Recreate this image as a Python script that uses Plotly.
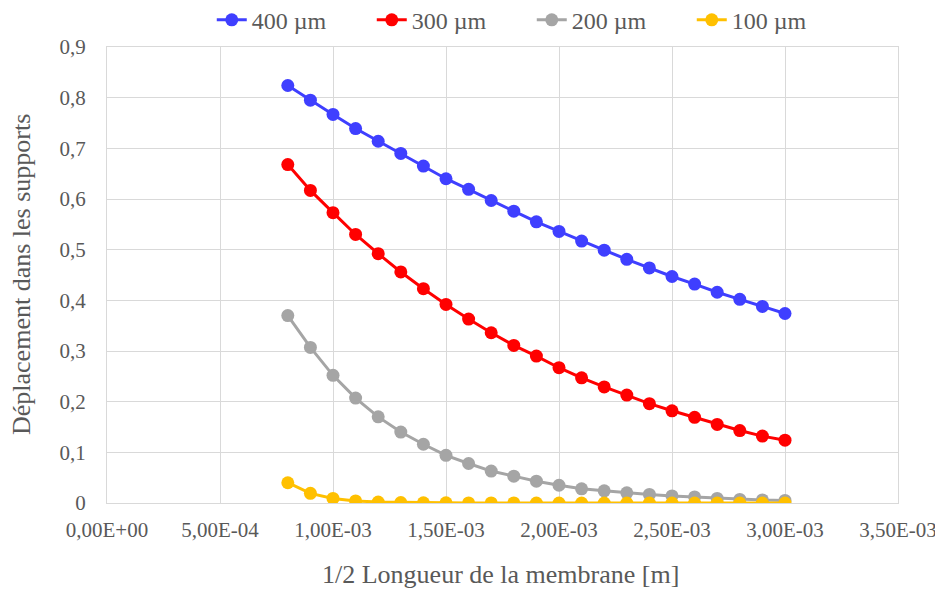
import plotly.graph_objects as go

x_m = [0.0008, 0.0009, 0.0010, 0.0011, 0.0012, 0.0013, 0.0014, 0.0015, 0.0016, 0.0017,
       0.0018, 0.0019, 0.0020, 0.0021, 0.0022, 0.0023, 0.0024, 0.0025, 0.0026, 0.0027,
       0.0028, 0.0029, 0.0030]

y_400 = [0.824, 0.795, 0.767, 0.739, 0.714, 0.690, 0.665, 0.640, 0.619, 0.597, 0.576, 0.555,
         0.536, 0.517, 0.499, 0.481, 0.464, 0.447, 0.432, 0.416, 0.402, 0.388, 0.374]
y_300 = [0.668, 0.617, 0.573, 0.530, 0.492, 0.456, 0.423, 0.392, 0.363, 0.336, 0.311, 0.290,
         0.267, 0.247, 0.229, 0.213, 0.196, 0.182, 0.169, 0.155, 0.143, 0.132, 0.124]
y_200 = [0.370, 0.307, 0.252, 0.207, 0.170, 0.140, 0.116, 0.094, 0.078, 0.063, 0.053, 0.043,
         0.035, 0.028, 0.024, 0.020, 0.017, 0.014, 0.012, 0.009, 0.007, 0.006, 0.005]
y_100 = [0.040, 0.019, 0.009, 0.004, 0.002, 0.001, 0.0005, 0.0003, 0.0002, 0.0001, 0.0001, 0.0,
         0.0, 0.0, 0.0, 0.0, 0.0, 0.0, 0.0, 0.0, 0.0, 0.0, 0.0]

series_names = ["400 µm", "300 µm", "200 µm", "100 µm"]
series_colors = ["#3F3FFF", "#FF0000", "#A5A5A5", "#FFC000"]

x_tickvals = [0, 0.0005, 0.001, 0.0015, 0.002, 0.0025, 0.003, 0.0035]
x_ticktext = ["0,00E+00", "5,00E-04", "1,00E-03", "1,50E-03", "2,00E-03", "2,50E-03", "3,00E-03", "3,50E-03"]
y_tickvals = [0, 0.1, 0.2, 0.3, 0.4, 0.5, 0.6, 0.7, 0.8, 0.9]
y_ticktext = ["0", "0,1", "0,2", "0,3", "0,4", "0,5", "0,6", "0,7", "0,8", "0,9"]

x_title = "1/2 Longueur de la membrane [m]"
y_title = "Déplacement dans les supports"

font_family = "Liberation Serif"
text_color = "#595959"

fig = go.Figure()
for name, color, ys in zip(series_names, series_colors, [y_400, y_300, y_200, y_100]):
    fig.add_trace(go.Scatter(
        x=x_m, y=ys, name=name, mode="lines+markers",
        line=dict(color=color, width=3),
        marker=dict(color=color, size=13),
    ))

fig.update_layout(
    width=935, height=582,
    paper_bgcolor="white", plot_bgcolor="white",
    margin=dict(l=99, r=45, t=39, b=87),
    font=dict(family=font_family, size=21, color=text_color),
    showlegend=True,
    legend=dict(orientation="h", xref="paper", x=0.537, xanchor="center",
                yref="container", y=0.979, yanchor="middle",
                font=dict(family=font_family, size=24, color=text_color),
                entrywidth=115, traceorder="normal", itemclick=False,
                bgcolor="rgba(0,0,0,0)"),
    xaxis=dict(
        range=[0, 0.0035], tickvals=x_tickvals, ticktext=x_ticktext,
        showgrid=True, gridcolor="#D9D9D9", gridwidth=1,
        zeroline=False, showline=True, linecolor="#D9D9D9", mirror=True,
        ticks="", ticklabelstandoff=8, automargin=False,
        tickfont=dict(family=font_family, size=21, color=text_color),
    ),
    yaxis=dict(
        range=[0, 0.9], tickvals=y_tickvals, ticktext=y_ticktext,
        showgrid=True, gridcolor="#D9D9D9", gridwidth=1,
        zeroline=False, showline=True, linecolor="#D9D9D9", mirror=True,
        ticks="", ticklabelstandoff=16, automargin=False,
        tickfont=dict(family=font_family, size=21, color=text_color),
    ),
    annotations=[
        dict(text=x_title, xref="paper", yref="paper", x=0.498, y=0, yshift=-71,
             xanchor="center", yanchor="middle", showarrow=False,
             font=dict(family=font_family, size=26, color=text_color)),
        dict(text=y_title, xref="paper", yref="paper", x=0, y=0.5, xshift=-86,
             xanchor="center", yanchor="middle", textangle=-90, showarrow=False,
             font=dict(family=font_family, size=26, color=text_color)),
    ],
)

fig.write_html("out.html")
